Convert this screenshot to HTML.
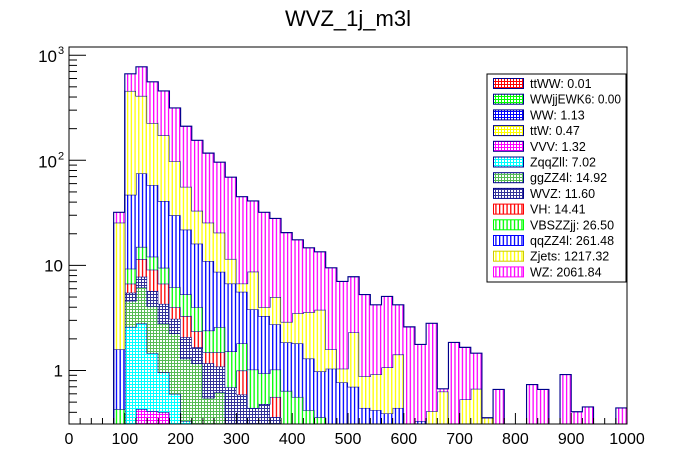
<!DOCTYPE html>
<html><head><meta charset="utf-8"><style>
body{margin:0;background:#fff;}
svg{display:block;font-family:"Liberation Sans",Arial,sans-serif;}
</style></head><body>
<svg id="chart" width="696" height="472" viewBox="0 0 696 472">
<defs>
<pattern id="st-mag" patternUnits="userSpaceOnUse" width="3.72" height="4" x="0.5"><rect width="3.72" height="4" fill="#fff"/><rect x="0" width="1.3" height="4" fill="#f0f"/></pattern>
<pattern id="st-yel" patternUnits="userSpaceOnUse" width="3.72" height="4" x="0.5"><rect width="3.72" height="4" fill="#fff"/><rect x="0" width="1.3" height="4" fill="#ff0"/></pattern>
<pattern id="st-blu" patternUnits="userSpaceOnUse" width="3.72" height="4" x="0.5"><rect width="3.72" height="4" fill="#fff"/><rect x="0" width="1.3" height="4" fill="#00f"/></pattern>
<pattern id="st-grn" patternUnits="userSpaceOnUse" width="3.72" height="4" x="0.5"><rect width="3.72" height="4" fill="#fff"/><rect x="0" width="1.3" height="4" fill="#0f0"/></pattern>
<pattern id="st-red" patternUnits="userSpaceOnUse" width="3.72" height="4" x="0.5"><rect width="3.72" height="4" fill="#fff"/><rect x="0" width="1.3" height="4" fill="#f00"/></pattern>
<pattern id="ck-red" patternUnits="userSpaceOnUse" width="3" height="3"><rect width="3" height="3" fill="#fff"/><rect width="3" height="1" fill="#f00"/><rect width="1" height="3" fill="#f00"/></pattern>
<pattern id="ck-grn" patternUnits="userSpaceOnUse" width="3" height="3"><rect width="3" height="3" fill="#fff"/><rect width="3" height="1" fill="#0f0"/><rect width="1" height="3" fill="#0f0"/></pattern>
<pattern id="ck-blu" patternUnits="userSpaceOnUse" width="3" height="3"><rect width="3" height="3" fill="#fff"/><rect width="3" height="1" fill="#00f"/><rect width="1" height="3" fill="#00f"/></pattern>
<pattern id="ck-yel" patternUnits="userSpaceOnUse" width="3" height="3"><rect width="3" height="3" fill="#fff"/><rect width="3" height="1" fill="#ff0"/><rect width="1" height="3" fill="#ff0"/></pattern>
<pattern id="ck-mag" patternUnits="userSpaceOnUse" width="3" height="3"><rect width="3" height="3" fill="#fff"/><rect width="3" height="1" fill="#f0f"/><rect width="1" height="3" fill="#f0f"/></pattern>
<pattern id="ck-cya" patternUnits="userSpaceOnUse" width="3" height="3"><rect width="3" height="3" fill="#fff"/><rect width="3" height="1" fill="#0ff"/><rect width="1" height="3" fill="#0ff"/></pattern>
<pattern id="ck-ggz" patternUnits="userSpaceOnUse" width="3" height="3"><rect width="3" height="3" fill="#fff"/><rect width="3" height="1" fill="#5b5"/><rect width="1" height="3" fill="#5b5"/></pattern>
<pattern id="ck-wvz" patternUnits="userSpaceOnUse" width="3" height="3"><rect width="3" height="3" fill="#fff"/><rect width="3" height="1" fill="#339"/><rect width="1" height="3" fill="#339"/></pattern>
<clipPath id="plotclip"><rect x="69" y="47" width="558" height="377"/></clipPath>
</defs>
<text x="348" y="26" text-anchor="middle" font-size="22">WVZ_1j_m3l</text>
<g id="bars" clip-path="url(#plotclip)"></g>
<g id="axes"></g>
<g id="legend"></g>
</svg>
<script>
const binWidth = 20, nBins = 50;
const seriesNames = ["VVV","ZqqZll","ggZZ4l","WVZ","VH","VBSZZjj","qqZZ4l","Zjets","WZ"];
const vvv    = [0,0,0,0,0,0,.43,.41,.40,0, 0,0,0,0,0,0,0,0,0,0, 0,0,0,0,0,0,0,0,0,0, 0,0,0,0,0,0,0,0,0,0, 0,0,0,0,0,0,0,0,0,0];
const zqqzll = [0,0,0,0,0,2.6,2.37,1.05,.56,.6, .33,0,0,0,0,0,0,0,0,0, 0,0,0,0,0,0,0,0,0,0, 0,0,0,0,0,0,0,0,0,0, 0,0,0,0,0,0,0,0,0,0];
const ggzz4l = [0,0,0,0,0,2.0,3.4,2.64,1.84,1.66, .97,1.17,.55,.62,0,0,0,0,0,0, 0,0,0,0,0,0,0,0,0,0, 0,0,0,0,0,0,0,0,0,0, 0,0,0,0,0,0,0,0,0,0];
const wvz    = [0,0,0,0,0,.9,1.6,1.6,1.5,.84, .77,.49,.62,.47,.69,.59,.44,.48,.36,0, 0,0,0,0,0,0,0,0,0,0, 0,0,0,0,0,0,0,0,0,0, 0,0,0,0,0,0,0,0,0,0];
const vh     = [0,0,0,0,0,1.2,3.7,3.4,2.4,.9, 1.23,.7,.32,.4,0,.41,0,0,.2,0, 0,0,0,0,0,0,0,0,0,0, 0,0,0,0,0,0,0,0,0,0, 0,0,0,0,0,0,0,0,0,0];
const vbszz  = [0,0,0,0,.43,2.6,3.5,3.0,2.8,2.2, 2.0,1.64,.91,1.1,.83,.81,.58,.46,.46,.64, .56,.42,.36,0,0,0,0,0,0,0, 0,0,0,0,0,0,0,0,0,0, 0,0,0,0,0,0,0,0,0,0];
const qqzz4l = [0,0,0,0,1.16,37.7,60,46,31.5,23.8, 16.6,12.1,8.6,6.1,5.2,3.8,2.8,2.36,1.73,1.21, 1.25,.88,.62,1.04,.77,.7,.44,.42,.39,.44, .3,.33,0,0,0,0,0,0,0,0, 0,0,0,0,0,0,0,0,0,0];
const zjets  = [0,0,0,0,23.9,410,335,168,132,68, 34,17,14.5,11.8,4.8,1.1,4.9,.7,2.25,1.05, 1.7,2.3,2.8,.55,.27,1.6,.44,.5,.68,.98, 0,0,.41,.63,0,.53,.67,.355,0,0, 0,0,0,0,0,0,0,0,0,0];
const wz     = [0,0,0,0,6.5,208,366,332,284,217, 155,122,91.5,75.5,57.5,38.3,32.3,28,23,17.6, 14,11.1,9.7,7.9,6.0,5.5,4.4,3.3,4.0,2.8, 2.3,1.44,2.4,.04,1.85,1.13,.79,0,.66,0, 0,.735,.66,0,.915,.405,.45,0,0,.44];
const seriesValues = [vvv,zqqzll,ggzz4l,wvz,vh,vbszz,qqzz4l,zjets,wz];
const seriesFills = ["ck-mag","ck-cya","ck-ggz","ck-wvz","st-red","st-grn","st-blu","st-yel","st-mag"];
const xTickLabels = [0,100,200,300,400,500,600,700,800,900,1000];
const legendLabels = ["ttWW: 0.01","WWjjEWK6: 0.00","WW: 1.13","ttW: 0.47","VVV: 1.32","ZqqZll: 7.02","ggZZ4l: 14.92","WVZ: 11.60","VH: 14.41","VBSZZjj: 26.50","qqZZ4l: 261.48","Zjets: 1217.32","WZ: 2061.84"];
const legendFills = ["ck-red","ck-grn","ck-blu","ck-yel","ck-mag","ck-cya","ck-ggz","ck-wvz","st-red","st-grn","st-blu","st-yel","st-mag"];
const legendStroke = ["#00008b","#00008b","#00008b","#00008b","#00008b","#00008b","#00008b","#00008b","#f00","#0f0","#00f","#cc0","#f0f"];

const NS="http://www.w3.org/2000/svg";
const X0=69,X1=627,Y1=424,Y0=47;
const yOne=370.5, decade=105.1;
function xs(v){return X0+v*(X1-X0)/1000;}
function ys(v){ if(v<=0) return Y1+5; const y=yOne-Math.log10(v)*decade; return Math.min(y,Y1+5);}
function mk(tag,attrs,parent){const e=document.createElementNS(NS,tag);for(const k in attrs)e.setAttribute(k,attrs[k]);parent.appendChild(e);return e;}

const bars=document.getElementById('bars');
const cum=new Array(nBins).fill(0);
seriesValues.forEach((vals,si)=>{
  const lower=cum.slice();
  for(let i=0;i<nBins;i++) cum[i]+=vals[i];
  const g=mk('g',{},bars);
  
  
  for(let i=0;i<nBins;i++){
    if(vals[i]<=0) continue;
    const yt=ys(cum[i]), yb=ys(lower[i]);
    if(yb-yt<=0) continue;
    const r=mk('rect',{x:xs(i*binWidth),y:yt,width:xs((i+1)*binWidth)-xs(i*binWidth),height:yb-yt,fill:'url(#'+seriesFills[si]+')'},g);
    
    
  }
  let d='';
  for(let i=0;i<nBins;i++){
    const y=ys(cum[i]);
    const xa=xs(i*binWidth), xb=xs((i+1)*binWidth);
    d+=(i===0?'M'+xa+','+y:'L'+xa+','+y)+'L'+xb+','+y;
  }
  const p=mk('path',{d:d,fill:'none',stroke:'#00008b','stroke-width':1.15},g);
  
  
});

const axes=document.getElementById('axes');
const frame=mk('rect',{x:X0,y:Y0,width:X1-X0,height:Y1-Y0,fill:'none',stroke:'#000','stroke-width':1},axes);


for(let v=0;v<=1000;v+=20){
  const major=v%100===0;
  mk('line',{x1:xs(v),x2:xs(v),y1:Y1,y2:Y1-(major?11:6),stroke:'#000'},axes);
}
xTickLabels.forEach(v=>{
  const t=mk('text',{x:xs(v),y:Y1+20,'text-anchor':'middle','font-size':16},axes);
  t.textContent=v;
  
  
});
for(let e=-1;e<=3;e++){
  for(let m=1;m<=9;m++){
    const v=m*Math.pow(10,e);
    const y=ys(v);
    if(y<Y0||y>Y1) continue;
    mk('line',{x1:X0,x2:X0+(m===1?17:8),y1:y,y2:y,stroke:'#000'},axes);
  }
}
[[1,"1"],[10,"10"]].forEach(([v,s])=>{
  const t=mk('text',{x:X0-6,y:ys(v)+6,'text-anchor':'end','font-size':17},axes);
  t.textContent=s;
  
  
});
[[100,"2"],[1000,"3"]].forEach(([v,p])=>{
  const t=mk('text',{x:X0-12,y:ys(v)+7,'text-anchor':'end','font-size':17},axes);
  t.textContent='10';
  
  
  const s=mk('text',{x:X0-11,y:ys(v)-1,'text-anchor':'start','font-size':11},axes);
  s.textContent=p;
  
  
});

const lg=document.getElementById('legend');


mk('rect',{x:487,y:74,width:139,height:208,fill:'#fff',stroke:'#000','stroke-width':1},lg);
legendLabels.forEach((lab,i)=>{
  const cy=83.5+i*15.7;
  const g=mk('g',{},lg);
  
  
  mk('rect',{x:493.5,y:cy-5,width:30,height:10,fill:'url(#'+legendFills[i]+')',stroke:legendStroke[i],'stroke-width':1},g);
  const t=mk('text',{x:530,y:cy+4.5,'font-size':12.5},g);
  t.textContent=lab;
  if(lab.indexOf('WWjj')===0){t.setAttribute('textLength',91);t.setAttribute('lengthAdjust','spacingAndGlyphs');}
});
</script>
</body></html>
